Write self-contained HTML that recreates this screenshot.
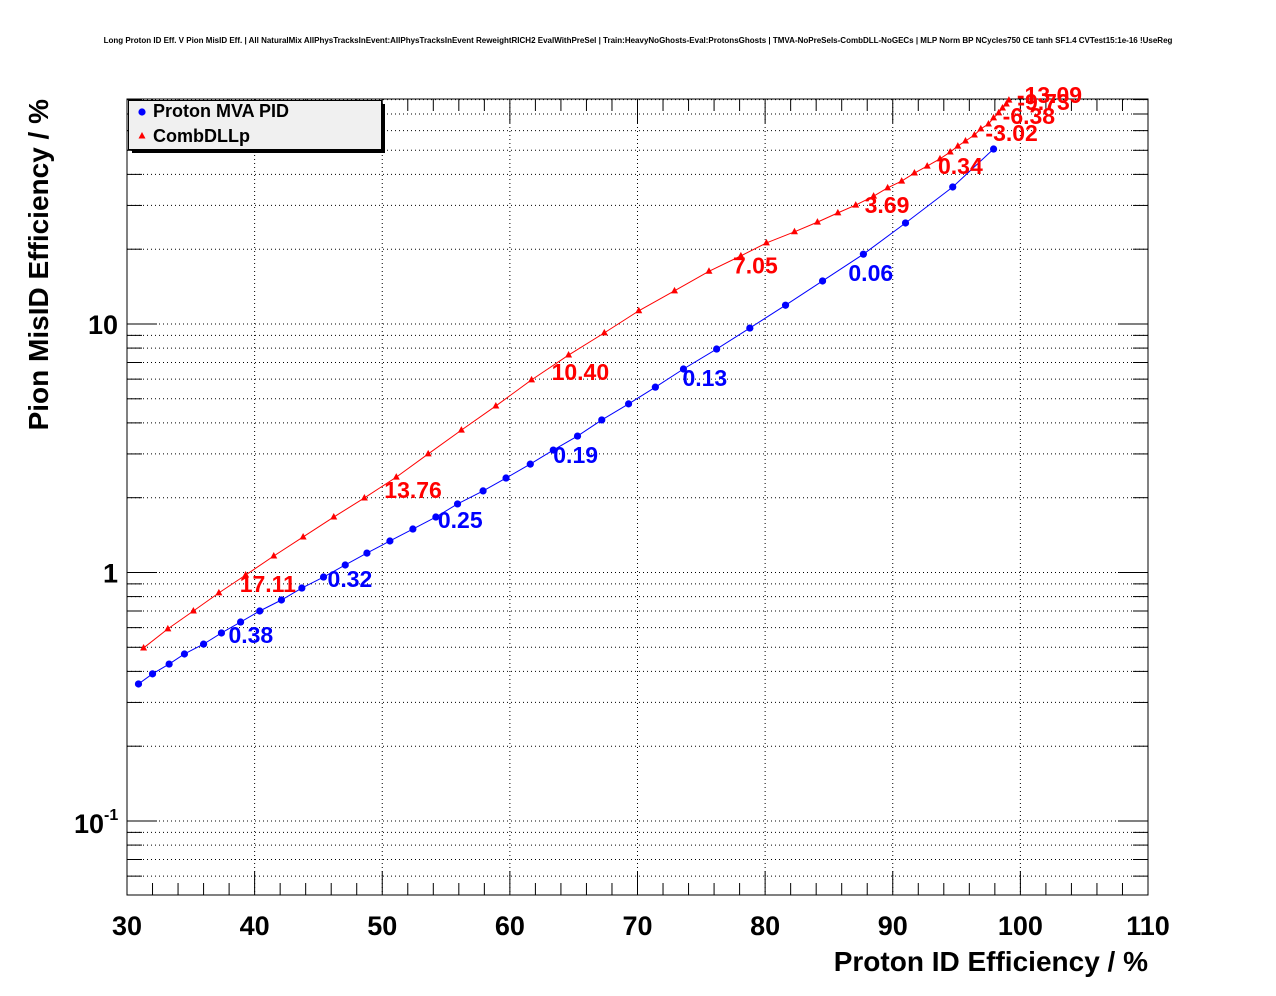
<!DOCTYPE html>
<html><head><meta charset="utf-8"><style>
body{margin:0;background:#fff;}
svg{display:block;font-family:"Liberation Sans",Arial,sans-serif;}
</style></head><body>
<svg id="c" width="1276" height="996"></svg>
<script>
const blueX=[30.9,32.0,33.3,34.5,36.0,37.4,38.9,40.4,42.1,43.7,45.4,47.1,48.8,50.6,52.4,54.2,55.9,57.9,59.7,61.6,63.4,65.3,67.2,69.3,71.4,73.6,76.2,78.8,81.6,84.5,87.7,91.0,94.7,97.9];
const blueY=[0.356,0.391,0.428,0.470,0.515,0.571,0.632,0.700,0.775,0.866,0.959,1.072,1.197,1.339,1.496,1.672,1.888,2.13,2.40,2.73,3.11,3.54,4.11,4.77,5.57,6.59,7.93,9.63,11.9,14.9,19.1,25.5,35.6,50.6];
const redX=[31.3,33.2,35.2,37.2,39.3,41.5,43.8,46.2,48.6,51.1,53.6,56.2,58.9,61.7,64.6,67.4,70.1,72.9,75.6,78.1,80.1,82.3,84.1,85.7,87.1,88.5,89.6,90.7,91.7,92.7,93.7,94.5,95.1,95.7,96.4,96.9,97.5,97.9,98.3,98.6,98.9,99.1];
const redY=[0.497,0.593,0.700,0.828,0.977,1.165,1.390,1.672,1.995,2.42,3.00,3.74,4.68,5.96,7.50,9.21,11.3,13.6,16.3,18.8,21.2,23.5,25.7,28.0,30.1,32.7,35.3,37.6,40.5,43.2,46.2,49.2,52.0,54.5,57.6,61.0,63.8,67.5,70.7,74.0,76.8,79.6];
const blueLabels=["0.38","0.32","0.25","0.19","0.13","0.06"];
const blueLabelIdx=[5,10,15,20,25,30];
const redLabels=["17.11","13.76","10.40","7.05","3.69","0.34","-3.02","-6.38","-9.73","-13.09"];
const redLabelIdx=[4,9,13,18,25,30,34,38,40,41];
const xTicks=[30,40,50,60,70,80,90,100,110];

const blueOff=[[7,10],[4,10],[2,11],[0,13],[-1,17],[-15,27]];
const redOff=[[-6,17],[-12,21],[20,0],[24,2],[-9,17],[-2,15],[11,6],[4,11],[11,6],[8,3]];
const L=127,R=1148,T=99,B=895;
const sx=v=>L+(v-30)*(R-L)/80;
const sy=v=>324-(Math.log10(v)-1)*248.5;
const NS="http://www.w3.org/2000/svg";
const svg=document.getElementById('c');
function mk(tag,attrs,parent){const e=document.createElementNS(NS,tag);for(const k in attrs)e.setAttribute(k,attrs[k]);(parent||svg).appendChild(e);return e;}

let t=mk('text',{x:638,y:43,'font-size':8,'font-weight':'bold','text-anchor':'middle'});


t.textContent="Long Proton ID Eff. V Pion MisID Eff. | All NaturalMix AllPhysTracksInEvent:AllPhysTracksInEvent ReweightRICH2 EvalWithPreSel | Train:HeavyNoGhosts-Eval:ProtonsGhosts | TMVA-NoPreSels-CombDLL-NoGECs | MLP Norm BP NCycles750 CE tanh SF1.4 CVTest15:1e-16 !UseReg";

const grid=mk('g',{stroke:'#000','stroke-width':1,'stroke-dasharray':'1,3'});


xTicks.forEach(v=>{if(v>30&&v<110)mk('line',{x1:sx(v),x2:sx(v),y1:T,y2:B},grid);});
for(let d=-2;d<=1;d++)for(let m=1;m<10;m++){const v=m*Math.pow(10,d);const y=sy(v);if(y>T&&y<B)mk('line',{x1:L,x2:R,y1:y,y2:y},grid);}

let f=mk('rect',{x:L,y:T,width:R-L,height:B-T,fill:'none',stroke:'#000','stroke-width':1});



const tk=mk('g',{stroke:'#000','stroke-width':1});


for(let v=30;v<=110;v+=2){const x=sx(v);const len=(v%10===0)?24:12;mk('line',{x1:x,x2:x,y1:B,y2:B-len},tk);mk('line',{x1:x,x2:x,y1:T,y2:T+len},tk);}
for(let d=-2;d<=1;d++)for(let m=1;m<10;m++){const v=m*Math.pow(10,d);const y=sy(v);if(y>=T&&y<=B){const len=m===1?30:15;mk('line',{x1:L,x2:L+len,y1:y,y2:y},tk);mk('line',{x1:R,x2:R-len,y1:y,y2:y},tk);}}

xTicks.forEach(v=>{const e=mk('text',{x:sx(v),y:935,'font-size':27,'font-weight':'bold','text-anchor':'middle'});


e.textContent=v;});
let y1=mk('text',{x:118,y:sy(10)+10,'font-size':27,'font-weight':'bold','text-anchor':'end'});


y1.textContent="10";
let y2=mk('text',{x:118,y:sy(1)+10,'font-size':27,'font-weight':'bold','text-anchor':'end'});


y2.textContent="1";
let y3=mk('text',{x:104,y:sy(0.1)+12,'font-size':27,'font-weight':'bold','text-anchor':'end'});


y3.textContent="10";
let y3e=mk('text',{x:104,y:sy(0.1)-1,'font-size':16,'font-weight':'bold'});


y3e.textContent="-1";

let xt=mk('text',{x:1148,y:971,'font-size':28,'font-weight':'bold','text-anchor':'end'});


xt.textContent="Proton ID Efficiency / %";
let yt=mk('text',{x:0,y:0,'font-size':28,'font-weight':'bold','text-anchor':'end',transform:'translate(48,99) rotate(-90)'});


yt.textContent="Pion MisID Efficiency / %";

function series(xs,ys,color,name,tri){
  const g=mk('g',{});
  
  
  const pts=xs.map((v,i)=>sx(v)+','+sy(ys[i])).join(' ');
  mk('polyline',{points:pts,fill:'none',stroke:color,'stroke-width':1},g);
  xs.forEach((v,i)=>{const x=sx(v),y=sy(ys[i]);let m;
    if(tri)m=mk('polygon',{points:`${x},${y-4} ${x-3.5},${y+2.5} ${x+3.5},${y+2.5}`,fill:color},g);
    else m=mk('circle',{cx:x,cy:y,r:3.6,fill:color},g);
    
    
  });
  return g;
}
series(blueX,blueY,'#0000ff','mva-pid-series',false);
series(redX,redY,'#ff0000','combdllp-series',true);

function labels(names,idx,off,xs,ys,color){
  names.forEach((s,i)=>{const k=idx[i];const e=mk('text',{x:sx(xs[k])+off[i][0],y:sy(ys[k])+off[i][1],'font-size':23,'font-weight':'bold',fill:color});
  
  
  e.textContent=s;});
}
labels(blueLabels,blueLabelIdx,blueOff,blueX,blueY,'#0000ff');
labels(redLabels,redLabelIdx,redOff,redX,redY,'#ff0000');

const lg=mk('g',{});


mk('rect',{x:132,y:104,width:253,height:49,fill:'#000'},lg);
mk('rect',{x:128.5,y:100.5,width:253,height:49,fill:'#f0f0f0',stroke:'#000','stroke-width':1},lg);
mk('circle',{cx:142,cy:112,r:3.6,fill:'#0000ff'},lg);
mk('polygon',{points:'142,132 138.5,138.5 145.5,138.5',fill:'#ff0000'},lg);
let l1=mk('text',{x:153,y:117,'font-size':18,'font-weight':'bold'},lg);


l1.textContent="Proton MVA PID";
let l2=mk('text',{x:153,y:142,'font-size':18,'font-weight':'bold'},lg);


l2.textContent="CombDLLp";
</script>
</body></html>
